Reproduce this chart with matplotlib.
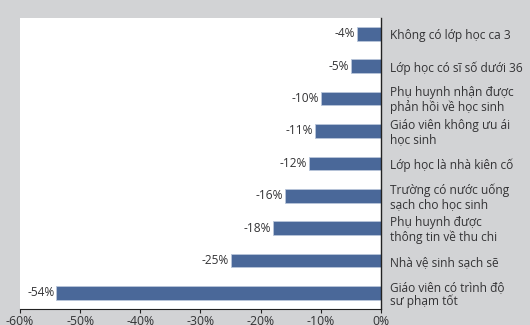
import matplotlib
matplotlib.use("Agg")
import matplotlib.pyplot as plt
from matplotlib.ticker import FuncFormatter

plt.rcParams['font.family'] = ['Open Sans', 'DejaVu Sans']

categories = [
    "Không có lớp học ca 3",
    "Lớp học có sĩ số dưới 36",
    "Phụ huynh nhận được\nphản hồi về học sinh",
    "Giáo viên không ưu ái\nhọc sinh",
    "Lớp học là nhà kiên cố",
    "Trường có nước uống\nsạch cho học sinh",
    "Phụ huynh được\nthông tin về thu chi",
    "Nhà vệ sinh sạch sẽ",
    "Giáo viên có trình độ\nsư phạm tốt",
]
values = [-4, -5, -10, -11, -12, -16, -18, -25, -54]
xticks = [-60, -50, -40, -30, -20, -10, 0]

bg = "#d2d3d5"
bar_color = "#4a6899"
text_color = "#333335"

fig = plt.figure(figsize=(5.30, 3.25), dpi=100, facecolor=bg)
ax = fig.add_axes([0.0377, 0.049, 0.6812, 0.897])
ax.set_facecolor("white")

y = list(range(len(categories)))
ax.barh(y, values, height=0.42, color=bar_color, edgecolor="#b9c6da", linewidth=0.6)

for yi, v in zip(y, values):
    ax.text(v - 0.25, yi, f"{v}%", ha="right", va="center", fontsize=8.6,
            color=text_color)

for yi, label in zip(y, categories):
    ax.text(1.5, yi + 0.05, label, ha="left", va="center", fontsize=8.6,
            color=text_color, linespacing=1.12, clip_on=False)

ax.set_xlim(-60, 0)
ax.set_ylim(len(categories) - 0.5, -0.5)
ax.set_xticks(xticks)
ax.xaxis.set_major_formatter(FuncFormatter(lambda v, p: f"{int(v)}%"))
ax.set_yticks([])
ax.tick_params(axis="x", length=3, width=0.8, colors="#222222", labelsize=8.8,
               pad=1, labelcolor=text_color)
for side in ("top", "left"):
    ax.spines[side].set_visible(False)
ax.spines["right"].set_color("#222222")
ax.spines["right"].set_linewidth(1.0)
ax.spines["bottom"].set_color("#222222")
ax.spines["bottom"].set_linewidth(0.8)

fig.savefig("out.png", dpi=100, facecolor=bg)
